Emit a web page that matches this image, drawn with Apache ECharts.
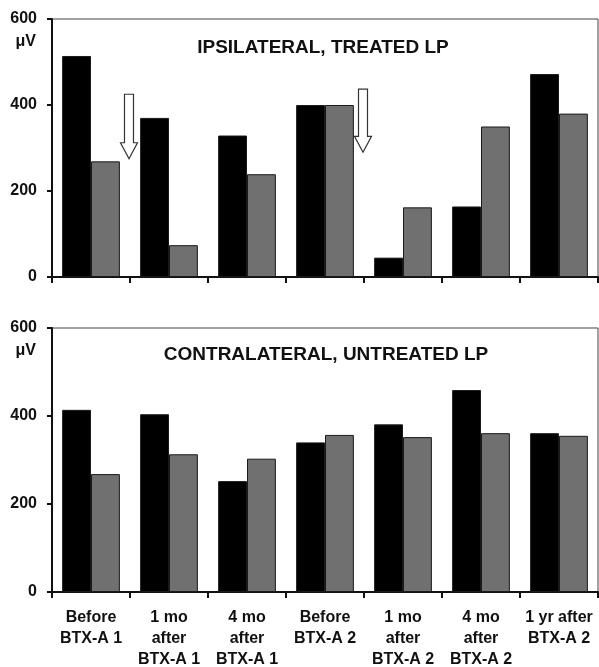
<!DOCTYPE html>
<html><head><meta charset="utf-8">
<script src="https://cdn.jsdelivr.net/npm/echarts@6/dist/echarts.min.js"></script>
<style>html,body{margin:0;padding:0;background:#fff}#c{width:599px;height:667px}</style>
</head><body><div id="c"></div>
<script>
const categories = ['Before\nBTX-A 1', '1 mo\nafter\nBTX-A 1', '4 mo\nafter\nBTX-A 1', 'Before\nBTX-A 2', '1 mo\nafter\nBTX-A 2', '4 mo\nafter\nBTX-A 2', '1 yr after\nBTX-A 2'];
const ipsiBlack = [514, 370, 329, 400, 45, 164, 472];
const ipsiGray = [269, 74, 239, 400, 162, 350, 380];
const contraBlack = [414, 404, 252, 340, 381, 459, 361];
const contraGray = [268, 313, 303, 357, 352, 361, 355];
const panelTitles = ['IPSILATERAL, TREATED LP', 'CONTRALATERAL, UNTREATED LP'];
const unitLabel = 'μV';
const yMin = 0, yMax = 600, yStep = 200;
// arrows: after category index, top value, tip value (top panel)
const arrowAfter = [0, 3];
const arrowTop = [425, 437];
const arrowTip = [275, 290];

const FONT = "'Liberation Sans', Arial, sans-serif";
const chart = echarts.init(document.getElementById('c'), null, {renderer: 'canvas'});

const grids = [
  {left: 52, right: 1, top: 19, height: 258, show: true, borderColor: '#444', borderWidth: 1, outerBoundsMode: 'none', containLabel: false},
  {left: 52, right: 1, top: 328, height: 264, show: true, borderColor: '#444', borderWidth: 1, outerBoundsMode: 'none', containLabel: false}
];
function xAx(i, showLabels) {
  return {
    type: 'category', gridIndex: i, data: categories,
    axisLine: {lineStyle: {color: '#111', width: 2}},
    axisTick: {show: true, length: 6, lineStyle: {color: '#111', width: 2}},
    axisLabel: {show: showLabels, interval: 0, margin: 15, color: '#111', fontFamily: FONT, fontWeight: 'bold', fontSize: 16, lineHeight: 21}
  };
}
function yAx(i) {
  return {
    type: 'value', gridIndex: i, min: yMin, max: yMax, interval: yStep,
    splitLine: {show: false},
    axisLine: {show: true, lineStyle: {color: '#111', width: 2}},
    axisTick: {show: true, length: 5, lineStyle: {color: '#111', width: 2}},
    axisLabel: {margin: 15, color: '#111', fontFamily: FONT, fontWeight: 'bold', fontSize: 16}
  };
}
function bar(i, data, color) {
  return {
    type: 'bar', xAxisIndex: i, yAxisIndex: i, data: data,
    barCategoryGap: '26%', barGap: '0%',
    itemStyle: {color: color, borderColor: '#1a1a1a', borderWidth: 1},
    silent: true
  };
}
chart.setOption({
  animation: false,
  backgroundColor: '#fff',
  grid: grids,
  xAxis: [xAx(0, false), xAx(1, true)],
  yAxis: [yAx(0), yAx(1)],
  title: [
    {text: panelTitles[0], left: 323, top: 38, textAlign: 'center', padding: 0,
     textStyle: {fontFamily: FONT, fontWeight: 'bold', fontSize: 19, color: '#111'}},
    {text: panelTitles[1], left: 326, top: 345, textAlign: 'center', padding: 0,
     textStyle: {fontFamily: FONT, fontWeight: 'bold', fontSize: 19, color: '#111'}}
  ],
  series: [
    bar(0, ipsiBlack, '#000'), bar(0, ipsiGray, '#707070'),
    bar(1, contraBlack, '#000'), bar(1, contraGray, '#707070')
  ]
});

const graphics = [];
// unit labels under top tick
[0, 1].forEach(function (g) {
  const p = chart.convertToPixel({xAxisIndex: g, yAxisIndex: g}, [0, yMax]);
  graphics.push({type: 'text', x: 52 - 16, y: p[1] + 23,
    style: {text: unitLabel, textAlign: 'right', textVerticalAlign: 'middle', fill: '#111', font: 'bold 16px ' + FONT}});
});
// hollow arrows
arrowAfter.forEach(function (ci, k) {
  const a = chart.convertToPixel({xAxisIndex: 0, yAxisIndex: 0}, [ci, arrowTop[k]]);
  const b = chart.convertToPixel({xAxisIndex: 0, yAxisIndex: 0}, [ci + 1, arrowTip[k]]);
  const cx = (a[0] + b[0]) / 2 - 1;
  const y0 = a[1], y1 = b[1];
  const hs = 4.5, hh = 8.5, headLen = 16;
  const yh = y1 - headLen;
  graphics.push({type: 'polygon', shape: {points: [
      [cx - hs, y0], [cx + hs, y0], [cx + hs, yh], [cx + hh, yh], [cx, y1], [cx - hh, yh], [cx - hs, yh]
    ]}, style: {fill: '#fff', stroke: '#333', lineWidth: 1.2}, z: 10});
});
chart.setOption({graphic: graphics});
</script></body></html>
